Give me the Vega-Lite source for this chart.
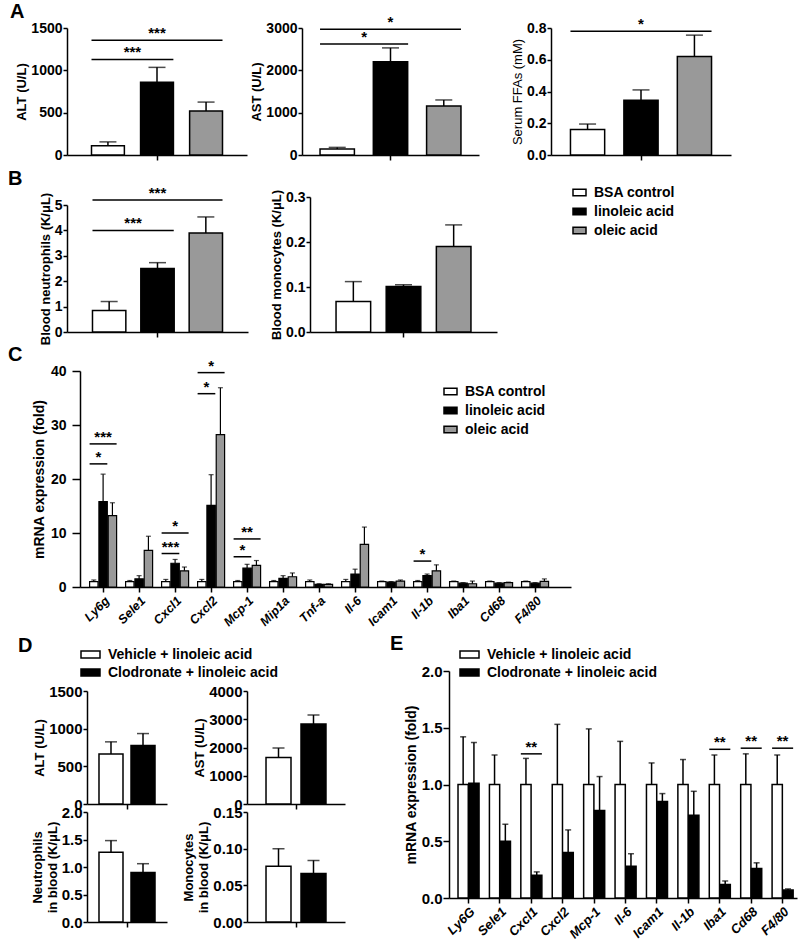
{
"$schema": "https://vega.github.io/schema/vega-lite/v6.json",
"background": "white",
"padding": {"left": 8, "top": 2, "right": 5, "bottom": 5},
"config": {
  "font": "Liberation Sans",
  "view": {"stroke": null},
  "axis": {"domainColor": "black", "domainWidth": 1.5, "tickColor": "black", "tickWidth": 1.5, "tickSize": 5, "labelColor": "black", "labelFontSize": 14, "labelFontWeight": "bold", "labelPadding": 2, "titleColor": "black", "titleFontSize": 13, "titleFontWeight": "bold", "titlePadding": 2, "grid": false},
  "axisY": {"tickSize": 4, "labelPadding": 1},
  "legend": {"labelFontSize": 14, "labelFontWeight": "bold", "labelColor": "black", "symbolStrokeColor": "black", "symbolStrokeWidth": 1.5, "labelOffset": 7, "padding": 0, "labelLimit": 400},
  "title": {"fontSize": 20, "fontWeight": "bold", "color": "black", "anchor": "start", "frame": "group", "offset": 2}
},
"datasets": {"none": []},
"spacing": 5,
"resolve": {"scale": {"fill": "independent", "xOffset": "independent"}, "legend": {"fill": "independent"}},
"vconcat": [
 {"spacing": -1,
  "resolve": {"scale": {"fill": "independent", "xOffset": "independent"}, "legend": {"fill": "independent"}},
  "vconcat": [
   {"spacing": 6,
    "resolve": {"scale": {"fill": "independent", "xOffset": "independent"}, "legend": {"fill": "independent"}},
    "vconcat": [
     {"bounds": "flush", "spacing": 0,
      "resolve": {"scale": {"fill": "independent", "xOffset": "independent"}, "legend": {"fill": "independent"}},
      "hconcat": [
       {"width": 180, "height": 127,
        "title": {"text": "A", "dx": -57, "dy": 3},
        "encoding": {
          "x": {"field": "panel", "type": "nominal", "scale": {"paddingInner": 0, "paddingOuter": 0.187}, "axis": {"labels": false, "title": null}},
          "y": {"field": "v", "type": "quantitative", "scale": {"domain": [0, 1500], "nice": false}, "axis": {"values": [0, 500, 1000, 1500], "format": "d", "title": "ALT (U/L)"}}},
        "layer": [
         {"data": {"values": [
            {"panel": "ALT", "g": "BSA control", "v": 110, "hi": 155},
            {"panel": "ALT", "g": "linoleic acid", "v": 860, "hi": 1035},
            {"panel": "ALT", "g": "oleic acid", "v": 520, "hi": 625}]},
          "encoding": {"xOffset": {"field": "g", "type": "nominal", "scale": {"domain": ["BSA control", "linoleic acid", "oleic acid"], "paddingInner": 0.33, "paddingOuter": 0}}},
          "layer": [
           {"mark": {"type": "bar", "stroke": "black", "strokeWidth": 1.5}, "encoding": {"fill": {"field": "g", "type": "nominal", "scale": {"domain": ["BSA control", "linoleic acid", "oleic acid"], "range": ["white", "black", "#999999"]}, "legend": null}}},
           {"mark": {"type": "rule", "color": "black", "strokeWidth": 1.5}, "encoding": {"y2": {"field": "hi"}}},
           {"mark": {"type": "tick", "color": "black", "thickness": 1.5, "size": 17, "orient": "horizontal"}, "encoding": {"y": {"field": "hi", "type": "quantitative"}}}]},
         {"data": {"values": [
            {"panel": "ALT", "to": "linoleic acid", "v": 1128, "label": "***"},
            {"panel": "ALT", "to": "oleic acid", "v": 1356, "label": "***"}]},
          "layer": [
           {"transform": [{"filter": "datum.to == 'linoleic acid'"}], "mark": {"type": "rule", "color": "black", "strokeWidth": 1.5}, "encoding": {"x": {"field": "panel", "type": "nominal", "bandPosition": 0}, "x2": {"field": "panel", "bandPosition": 0.625}}},
           {"transform": [{"filter": "datum.to == 'oleic acid'"}], "mark": {"type": "rule", "color": "black", "strokeWidth": 1.5}, "encoding": {"x": {"field": "panel", "type": "nominal", "bandPosition": 0}, "x2": {"field": "panel", "bandPosition": 1}}},
           {"transform": [{"filter": "datum.to == 'linoleic acid'"}], "mark": {"type": "text", "baseline": "alphabetic", "dy": -2, "fontSize": 15, "fontWeight": "bold"}, "encoding": {"x": {"field": "panel", "type": "nominal", "bandPosition": 0.3125}, "text": {"field": "label"}}},
           {"transform": [{"filter": "datum.to == 'oleic acid'"}], "mark": {"type": "text", "baseline": "alphabetic", "dy": -2, "fontSize": 15, "fontWeight": "bold"}, "encoding": {"x": {"field": "panel", "type": "nominal", "bandPosition": 0.5}, "text": {"field": "label"}}}]}
        ]},
       {"width": 55, "height": 1, "data": {"name": "none"}, "mark": "point"},
       {"width": 177, "height": 127,
        "encoding": {
          "x": {"field": "panel", "type": "nominal", "scale": {"paddingInner": 0, "paddingOuter": 0.128}, "axis": {"labels": false, "title": null}},
          "y": {"field": "v", "type": "quantitative", "scale": {"domain": [0, 3000], "nice": false}, "axis": {"values": [0, 1000, 2000, 3000], "format": "d", "title": "AST (U/L)"}}},
        "layer": [
         {"data": {"values": [
            {"panel": "AST", "g": "BSA control", "v": 140, "hi": 180},
            {"panel": "AST", "g": "linoleic acid", "v": 2200, "hi": 2530},
            {"panel": "AST", "g": "oleic acid", "v": 1160, "hi": 1300}]},
          "encoding": {"xOffset": {"field": "g", "type": "nominal", "scale": {"domain": ["BSA control", "linoleic acid", "oleic acid"], "paddingInner": 0.355, "paddingOuter": 0}}},
          "layer": [
           {"mark": {"type": "bar", "stroke": "black", "strokeWidth": 1.5}, "encoding": {"fill": {"field": "g", "type": "nominal", "scale": {"domain": ["BSA control", "linoleic acid", "oleic acid"], "range": ["white", "black", "#999999"]}, "legend": null}}},
           {"mark": {"type": "rule", "color": "black", "strokeWidth": 1.5}, "encoding": {"y2": {"field": "hi"}}},
           {"mark": {"type": "tick", "color": "black", "thickness": 1.5, "size": 17, "orient": "horizontal"}, "encoding": {"y": {"field": "hi", "type": "quantitative"}}}]},
         {"data": {"values": [
            {"panel": "AST", "to": "linoleic acid", "v": 2620, "label": "*"},
            {"panel": "AST", "to": "oleic acid", "v": 2970, "label": "*"}]},
          "layer": [
           {"transform": [{"filter": "datum.to == 'linoleic acid'"}], "mark": {"type": "rule", "color": "black", "strokeWidth": 1.5}, "encoding": {"x": {"field": "panel", "type": "nominal", "bandPosition": 0}, "x2": {"field": "panel", "bandPosition": 0.625}}},
           {"transform": [{"filter": "datum.to == 'oleic acid'"}], "mark": {"type": "rule", "color": "black", "strokeWidth": 1.5}, "encoding": {"x": {"field": "panel", "type": "nominal", "bandPosition": 0}, "x2": {"field": "panel", "bandPosition": 1}}},
           {"transform": [{"filter": "datum.to == 'linoleic acid'"}], "mark": {"type": "text", "baseline": "alphabetic", "dy": -2, "fontSize": 15, "fontWeight": "bold"}, "encoding": {"x": {"field": "panel", "type": "nominal", "bandPosition": 0.3125}, "text": {"field": "label"}}},
           {"transform": [{"filter": "datum.to == 'oleic acid'"}], "mark": {"type": "text", "baseline": "alphabetic", "dy": -2, "fontSize": 15, "fontWeight": "bold"}, "encoding": {"x": {"field": "panel", "type": "nominal", "bandPosition": 0.5}, "text": {"field": "label"}}}]}
        ]},
       {"width": 72, "height": 1, "data": {"name": "none"}, "mark": "point"},
       {"width": 180, "height": 127,
        "encoding": {
          "x": {"field": "panel", "type": "nominal", "scale": {"paddingInner": 0, "paddingOuter": 0.138}, "axis": {"labels": false, "title": null}},
          "y": {"field": "v", "type": "quantitative", "scale": {"domain": [0, 0.8], "nice": false}, "axis": {"values": [0, 0.2, 0.4, 0.6, 0.8], "format": ".1f", "title": "Serum FFAs (mM)", "titleFontWeight": "normal"}}},
        "layer": [
         {"data": {"values": [
            {"panel": "FFA", "g": "BSA control", "v": 0.16, "hi": 0.195},
            {"panel": "FFA", "g": "linoleic acid", "v": 0.345, "hi": 0.41},
            {"panel": "FFA", "g": "oleic acid", "v": 0.62, "hi": 0.755}]},
          "encoding": {"xOffset": {"field": "g", "type": "nominal", "scale": {"domain": ["BSA control", "linoleic acid", "oleic acid"], "paddingInner": 0.36, "paddingOuter": 0}}},
          "layer": [
           {"mark": {"type": "bar", "stroke": "black", "strokeWidth": 1.5}, "encoding": {"fill": {"field": "g", "type": "nominal", "scale": {"domain": ["BSA control", "linoleic acid", "oleic acid"], "range": ["white", "black", "#999999"]}, "legend": null}}},
           {"mark": {"type": "rule", "color": "black", "strokeWidth": 1.5}, "encoding": {"y2": {"field": "hi"}}},
           {"mark": {"type": "tick", "color": "black", "thickness": 1.5, "size": 17, "orient": "horizontal"}, "encoding": {"y": {"field": "hi", "type": "quantitative"}}}]},
         {"data": {"values": [{"panel": "FFA", "to": "oleic acid", "v": 0.78, "label": "*"}]},
          "layer": [
           {"mark": {"type": "rule", "color": "black", "strokeWidth": 1.5}, "encoding": {"x": {"field": "panel", "type": "nominal", "bandPosition": 0}, "x2": {"field": "panel", "bandPosition": 1}}},
           {"mark": {"type": "text", "baseline": "alphabetic", "dy": -2, "fontSize": 15, "fontWeight": "bold"}, "encoding": {"x": {"field": "panel", "type": "nominal", "bandPosition": 0.5}, "text": {"field": "label"}}}]}
        ]}
      ]},
     {"bounds": "flush", "spacing": 0,
      "resolve": {"scale": {"fill": "independent", "xOffset": "independent"}, "legend": {"fill": "independent"}},
      "hconcat": [
       {"width": 181, "height": 135,
        "title": {"text": "B", "dx": -59, "dy": 5},
        "encoding": {
          "x": {"field": "panel", "type": "nominal", "scale": {"paddingInner": 0, "paddingOuter": 0.196}, "axis": {"labels": false, "title": null}},
          "y": {"field": "v", "type": "quantitative", "scale": {"domain": [0, 5], "nice": false, "range": [135, 8]}, "axis": {"values": [0, 1, 2, 3, 4, 5], "format": "d", "title": "Blood neutrophils (K/μL)"}}},
        "layer": [
         {"data": {"values": [
            {"panel": "NEUT", "g": "BSA control", "v": 0.85, "hi": 1.2},
            {"panel": "NEUT", "g": "linoleic acid", "v": 2.5, "hi": 2.73},
            {"panel": "NEUT", "g": "oleic acid", "v": 3.9, "hi": 4.53}]},
          "encoding": {"xOffset": {"field": "g", "type": "nominal", "scale": {"domain": ["BSA control", "linoleic acid", "oleic acid"], "paddingInner": 0.31, "paddingOuter": 0}}},
          "layer": [
           {"mark": {"type": "bar", "stroke": "black", "strokeWidth": 1.5}, "encoding": {"fill": {"field": "g", "type": "nominal", "scale": {"domain": ["BSA control", "linoleic acid", "oleic acid"], "range": ["white", "black", "#999999"]}, "legend": null}}},
           {"mark": {"type": "rule", "color": "black", "strokeWidth": 1.5}, "encoding": {"y2": {"field": "hi"}}},
           {"mark": {"type": "tick", "color": "black", "thickness": 1.5, "size": 17, "orient": "horizontal"}, "encoding": {"y": {"field": "hi", "type": "quantitative"}}}]},
         {"data": {"values": [
            {"panel": "NEUT", "to": "linoleic acid", "v": 4.0, "label": "***"},
            {"panel": "NEUT", "to": "oleic acid", "v": 5.2, "label": "***"}]},
          "layer": [
           {"transform": [{"filter": "datum.to == 'linoleic acid'"}], "mark": {"type": "rule", "color": "black", "strokeWidth": 1.5}, "encoding": {"x": {"field": "panel", "type": "nominal", "bandPosition": 0}, "x2": {"field": "panel", "bandPosition": 0.625}}},
           {"transform": [{"filter": "datum.to == 'oleic acid'"}], "mark": {"type": "rule", "color": "black", "strokeWidth": 1.5}, "encoding": {"x": {"field": "panel", "type": "nominal", "bandPosition": 0}, "x2": {"field": "panel", "bandPosition": 1}}},
           {"transform": [{"filter": "datum.to == 'linoleic acid'"}], "mark": {"type": "text", "baseline": "alphabetic", "dy": -2, "fontSize": 15, "fontWeight": "bold"}, "encoding": {"x": {"field": "panel", "type": "nominal", "bandPosition": 0.3125}, "text": {"field": "label"}}},
           {"transform": [{"filter": "datum.to == 'oleic acid'"}], "mark": {"type": "text", "baseline": "alphabetic", "dy": -2, "fontSize": 15, "fontWeight": "bold"}, "encoding": {"x": {"field": "panel", "type": "nominal", "bandPosition": 0.5}, "text": {"field": "label"}}}]}
        ]},
       {"width": 62, "height": 1, "data": {"name": "none"}, "mark": "point"},
       {"width": 187, "height": 135,
        "data": {"values": [
            {"panel": "MONO", "g": "BSA control", "v": 0.068, "hi": 0.112},
            {"panel": "MONO", "g": "linoleic acid", "v": 0.101, "hi": 0.105},
            {"panel": "MONO", "g": "oleic acid", "v": 0.19, "hi": 0.238}]},
        "encoding": {
          "x": {"field": "panel", "type": "nominal", "scale": {"paddingInner": 0, "paddingOuter": 0.193}, "axis": {"labels": false, "title": null}},
          "xOffset": {"field": "g", "type": "nominal", "scale": {"domain": ["BSA control", "linoleic acid", "oleic acid"], "paddingInner": 0.31, "paddingOuter": 0}},
          "y": {"field": "v", "type": "quantitative", "scale": {"domain": [0, 0.3], "nice": false}, "axis": {"values": [0, 0.1, 0.2, 0.3], "format": ".1f", "title": "Blood monocytes (K/μL)"}}},
        "layer": [
         {"mark": {"type": "bar", "stroke": "black", "strokeWidth": 1.5}, "encoding": {"fill": {"field": "g", "type": "nominal", "scale": {"domain": ["BSA control", "linoleic acid", "oleic acid"], "range": ["white", "black", "#999999"]}, "legend": {"orient": "none", "legendX": 262, "legendY": -12, "title": null, "symbolType": "M-1,-0.5H1V0.5H-1Z", "symbolSize": 169, "rowPadding": 4}}}},
         {"mark": {"type": "rule", "color": "black", "strokeWidth": 1.5}, "encoding": {"y2": {"field": "hi"}}},
         {"mark": {"type": "tick", "color": "black", "thickness": 1.5, "size": 17, "orient": "horizontal"}, "encoding": {"y": {"field": "hi", "type": "quantitative"}}}]}
      ]}
    ]},
   {"bounds": "flush", "spacing": 0,
    "resolve": {"scale": {"fill": "independent", "xOffset": "independent"}, "legend": {"fill": "independent"}},
    "hconcat": [
     {"width": 13, "height": 1, "data": {"name": "none"}, "mark": "point"},
     {"width": 491, "height": 216,
      "title": {"text": "C", "dx": -72, "dy": 8},
      "encoding": {
        "x": {"field": "gene", "type": "nominal", "scale": {"domain": ["Ly6g", "Sele1", "Cxcl1", "Cxcl2", "Mcp-1", "Mip1a", "Tnf-a", "Il-6", "Icam1", "Il-1b", "Iba1", "Cd68", "F4/80"], "paddingInner": 0.25, "paddingOuter": 0.445, "align": 0.3}, "axis": {"title": null, "labelAngle": -45, "labelFontStyle": "italic", "labelFontSize": 12.5}},
        "y": {"field": "v", "type": "quantitative", "scale": {"domain": [0, 40], "nice": false}, "axis": {"values": [0, 10, 20, 30, 40], "format": "d", "title": "mRNA expression (fold)", "titleFontSize": 14, "tickSize": 8, "labelPadding": 6, "titlePadding": 4}}},
      "layer": [
       {"data": {"values": [
          {"gene": "Ly6g", "g": "BSA control", "v": 1, "hi": 1.3},
          {"gene": "Ly6g", "g": "linoleic acid", "v": 15.8, "hi": 20.9},
          {"gene": "Ly6g", "g": "oleic acid", "v": 13.2, "hi": 15.6},
          {"gene": "Sele1", "g": "BSA control", "v": 1, "hi": 1.2},
          {"gene": "Sele1", "g": "linoleic acid", "v": 1.5, "hi": 2.1},
          {"gene": "Sele1", "g": "oleic acid", "v": 6.8, "hi": 9.4},
          {"gene": "Cxcl1", "g": "BSA control", "v": 1, "hi": 1.4},
          {"gene": "Cxcl1", "g": "linoleic acid", "v": 4.4, "hi": 5.1},
          {"gene": "Cxcl1", "g": "oleic acid", "v": 3.0, "hi": 3.7},
          {"gene": "Cxcl2", "g": "BSA control", "v": 1, "hi": 1.4},
          {"gene": "Cxcl2", "g": "linoleic acid", "v": 15.1, "hi": 20.8},
          {"gene": "Cxcl2", "g": "oleic acid", "v": 28.2, "hi": 36.9},
          {"gene": "Mcp-1", "g": "BSA control", "v": 1, "hi": 1.2},
          {"gene": "Mcp-1", "g": "linoleic acid", "v": 3.5, "hi": 4.2},
          {"gene": "Mcp-1", "g": "oleic acid", "v": 4.0, "hi": 4.9},
          {"gene": "Mip1a", "g": "BSA control", "v": 1, "hi": 1.2},
          {"gene": "Mip1a", "g": "linoleic acid", "v": 1.6, "hi": 2.1},
          {"gene": "Mip1a", "g": "oleic acid", "v": 1.9, "hi": 2.6},
          {"gene": "Tnf-a", "g": "BSA control", "v": 1, "hi": 1.3},
          {"gene": "Tnf-a", "g": "linoleic acid", "v": 0.5, "hi": 0.6},
          {"gene": "Tnf-a", "g": "oleic acid", "v": 0.5, "hi": 0.6},
          {"gene": "Il-6", "g": "BSA control", "v": 1, "hi": 1.4},
          {"gene": "Il-6", "g": "linoleic acid", "v": 2.4, "hi": 3.3},
          {"gene": "Il-6", "g": "oleic acid", "v": 7.9, "hi": 11.1},
          {"gene": "Icam1", "g": "BSA control", "v": 1, "hi": 1.1},
          {"gene": "Icam1", "g": "linoleic acid", "v": 0.9, "hi": 1.0},
          {"gene": "Icam1", "g": "oleic acid", "v": 1.1, "hi": 1.3},
          {"gene": "Il-1b", "g": "BSA control", "v": 1, "hi": 1.2},
          {"gene": "Il-1b", "g": "linoleic acid", "v": 2.1, "hi": 2.4},
          {"gene": "Il-1b", "g": "oleic acid", "v": 3.0, "hi": 4.1},
          {"gene": "Iba1", "g": "BSA control", "v": 1, "hi": 1.1},
          {"gene": "Iba1", "g": "linoleic acid", "v": 0.7, "hi": 0.8},
          {"gene": "Iba1", "g": "oleic acid", "v": 0.6, "hi": 1.1},
          {"gene": "Cd68", "g": "BSA control", "v": 1, "hi": 1.1},
          {"gene": "Cd68", "g": "linoleic acid", "v": 0.7, "hi": 0.8},
          {"gene": "Cd68", "g": "oleic acid", "v": 0.8, "hi": 0.9},
          {"gene": "F4/80", "g": "BSA control", "v": 1, "hi": 1.1},
          {"gene": "F4/80", "g": "linoleic acid", "v": 0.7, "hi": 0.8},
          {"gene": "F4/80", "g": "oleic acid", "v": 1.05, "hi": 1.5}]},
        "encoding": {"xOffset": {"field": "g", "type": "nominal", "scale": {"domain": ["BSA control", "linoleic acid", "oleic acid"], "paddingInner": 0.1, "paddingOuter": 0}}},
        "layer": [
         {"mark": {"type": "bar", "stroke": "black", "strokeWidth": 1.2}, "encoding": {"fill": {"field": "g", "type": "nominal", "scale": {"domain": ["BSA control", "linoleic acid", "oleic acid"], "range": ["white", "black", "#999999"]}, "legend": {"orient": "none", "legendX": 363, "legendY": 13, "title": null, "symbolType": "M-1,-0.5H1V0.5H-1Z", "symbolSize": 169, "rowPadding": 4}}}},
         {"mark": {"type": "rule", "color": "black", "strokeWidth": 1.2}, "encoding": {"y2": {"field": "hi"}}},
         {"mark": {"type": "tick", "color": "black", "thickness": 1.2, "size": 5, "orient": "horizontal"}, "encoding": {"y": {"field": "hi", "type": "quantitative"}}}]},
       {"data": {"values": [
          {"gene": "Ly6g", "to": "linoleic acid", "v": 22.8, "label": "*"},
          {"gene": "Ly6g", "to": "oleic acid", "v": 26.5, "label": "***"},
          {"gene": "Cxcl1", "to": "linoleic acid", "v": 6.2, "label": "***"},
          {"gene": "Cxcl1", "to": "oleic acid", "v": 10.0, "label": "*"},
          {"gene": "Cxcl2", "to": "linoleic acid", "v": 35.8, "label": "*"},
          {"gene": "Cxcl2", "to": "oleic acid", "v": 39.7, "label": "*"},
          {"gene": "Mcp-1", "to": "linoleic acid", "v": 5.6, "label": "*"},
          {"gene": "Mcp-1", "to": "oleic acid", "v": 8.9, "label": "**"},
          {"gene": "Il-1b", "to": "linoleic acid", "v": 4.8, "label": "*"}]},
        "layer": [
         {"transform": [{"filter": "datum.to == 'linoleic acid'"}], "mark": {"type": "rule", "color": "black", "strokeWidth": 1.5}, "encoding": {"x": {"field": "gene", "type": "nominal", "bandPosition": 0}, "x2": {"field": "gene", "bandPosition": 0.656}}},
         {"transform": [{"filter": "datum.to == 'oleic acid'"}], "mark": {"type": "rule", "color": "black", "strokeWidth": 1.5}, "encoding": {"x": {"field": "gene", "type": "nominal", "bandPosition": 0}, "x2": {"field": "gene", "bandPosition": 1}}},
         {"transform": [{"filter": "datum.to == 'linoleic acid'"}], "mark": {"type": "text", "baseline": "alphabetic", "dy": -2, "fontSize": 15, "fontWeight": "bold"}, "encoding": {"x": {"field": "gene", "type": "nominal", "bandPosition": 0.328}, "text": {"field": "label"}}},
         {"transform": [{"filter": "datum.to == 'oleic acid'"}], "mark": {"type": "text", "baseline": "alphabetic", "dy": -2, "fontSize": 15, "fontWeight": "bold"}, "encoding": {"x": {"field": "gene", "type": "nominal", "bandPosition": 0.5}, "text": {"field": "label"}}}]}
      ]}
    ]}
  ]},
 {"spacing": 45,
  "resolve": {"scale": {"fill": "independent", "xOffset": "independent"}, "legend": {"fill": "independent"}},
  "hconcat": [
   {"bounds": "flush", "columns": 4, "spacing": 0,
    "resolve": {"scale": {"fill": "independent", "xOffset": "independent"}, "legend": {"fill": "independent"}},
    "concat": [
     {"width": 10, "height": 20, "data": {"name": "none"}, "mark": "point"},
     {"width": 0, "height": 20, "data": {"name": "none"}, "mark": "point"},
     {"width": 80, "height": 20, "data": {"name": "none"}, "mark": "point"},
     {"width": 0, "height": 20, "data": {"name": "none"}, "mark": "point"},

     {"width": 10, "height": 0, "data": {"name": "none"}, "mark": "point"},
     {"width": 80, "height": 113,
      "title": {"text": "D", "dx": -69, "dy": 14},
      "data": {"values": [
        {"panel": "ALT-D", "g": "Vehicle + linoleic acid", "v": 665, "hi": 825},
        {"panel": "ALT-D", "g": "Clodronate + linoleic acid", "v": 775, "hi": 935}]},
      "encoding": {
        "x": {"field": "panel", "type": "nominal", "scale": {"paddingInner": 0, "paddingOuter": 0.214}, "axis": {"labels": false, "title": null}},
        "xOffset": {"field": "g", "type": "nominal", "scale": {"domain": ["Vehicle + linoleic acid", "Clodronate + linoleic acid"], "paddingInner": 0.25, "paddingOuter": 0}},
        "y": {"field": "v", "type": "quantitative", "scale": {"domain": [0, 1500], "nice": false}, "axis": {"values": [0, 500, 1000, 1500], "format": "d", "title": "ALT (U/L)", "labelFontSize": 15}}},
      "layer": [
       {"mark": {"type": "bar", "stroke": "black", "strokeWidth": 1.5}, "encoding": {"fill": {"field": "g", "type": "nominal", "scale": {"domain": ["Vehicle + linoleic acid", "Clodronate + linoleic acid"], "range": ["white", "black"]}, "legend": {"orient": "none", "legendX": -7, "legendY": -47, "title": null, "symbolType": "M-1,-0.37H1V0.37H-1Z", "symbolSize": 361, "rowPadding": 0}}}},
       {"mark": {"type": "rule", "color": "black", "strokeWidth": 1.5}, "encoding": {"y2": {"field": "hi"}}},
       {"mark": {"type": "tick", "color": "black", "thickness": 1.5, "size": 12, "orient": "horizontal"}, "encoding": {"y": {"field": "hi", "type": "quantitative"}}}]},
     {"width": 80, "height": 0, "data": {"name": "none"}, "mark": "point"},
     {"width": 98, "height": 113,
      "data": {"values": [
        {"panel": "AST-D", "g": "Vehicle + linoleic acid", "v": 1650, "hi": 1980},
        {"panel": "AST-D", "g": "Clodronate + linoleic acid", "v": 2830, "hi": 3150}]},
      "encoding": {
        "x": {"field": "panel", "type": "nominal", "scale": {"paddingInner": 0, "paddingOuter": 0.317}, "axis": {"labels": false, "title": null}},
        "xOffset": {"field": "g", "type": "nominal", "scale": {"domain": ["Vehicle + linoleic acid", "Clodronate + linoleic acid"], "paddingInner": 0.286, "paddingOuter": 0}},
        "y": {"field": "v", "type": "quantitative", "scale": {"domain": [0, 4000], "nice": false}, "axis": {"values": [0, 1000, 2000, 3000, 4000], "format": "d", "title": "AST (U/L)", "labelFontSize": 15}}},
      "layer": [
       {"mark": {"type": "bar", "stroke": "black", "strokeWidth": 1.5}, "encoding": {"fill": {"field": "g", "type": "nominal", "scale": {"domain": ["Vehicle + linoleic acid", "Clodronate + linoleic acid"], "range": ["white", "black"]}, "legend": null}}},
       {"mark": {"type": "rule", "color": "black", "strokeWidth": 1.5}, "encoding": {"y2": {"field": "hi"}}},
       {"mark": {"type": "tick", "color": "black", "thickness": 1.5, "size": 12, "orient": "horizontal"}, "encoding": {"y": {"field": "hi", "type": "quantitative"}}}]},

     {"width": 0, "height": 8, "data": {"name": "none"}, "mark": "point"},
     {"width": 0, "height": 8, "data": {"name": "none"}, "mark": "point"},
     {"width": 0, "height": 8, "data": {"name": "none"}, "mark": "point"},
     {"width": 0, "height": 8, "data": {"name": "none"}, "mark": "point"},

     {"width": 10, "height": 0, "data": {"name": "none"}, "mark": "point"},
     {"width": 80, "height": 110,
      "data": {"values": [
        {"panel": "NEUT-D", "g": "Vehicle + linoleic acid", "v": 1.27, "hi": 1.48},
        {"panel": "NEUT-D", "g": "Clodronate + linoleic acid", "v": 0.9, "hi": 1.06}]},
      "encoding": {
        "x": {"field": "panel", "type": "nominal", "scale": {"paddingInner": 0, "paddingOuter": 0.214}, "axis": {"labels": false, "title": null}},
        "xOffset": {"field": "g", "type": "nominal", "scale": {"domain": ["Vehicle + linoleic acid", "Clodronate + linoleic acid"], "paddingInner": 0.25, "paddingOuter": 0}},
        "y": {"field": "v", "type": "quantitative", "scale": {"domain": [0, 2], "nice": false}, "axis": {"values": [0, 0.5, 1, 1.5, 2], "format": ".1f", "title": ["Neutrophils", "in blood (K/μL)"], "labelFontSize": 15}}},
      "layer": [
       {"mark": {"type": "bar", "stroke": "black", "strokeWidth": 1.5}, "encoding": {"fill": {"field": "g", "type": "nominal", "scale": {"domain": ["Vehicle + linoleic acid", "Clodronate + linoleic acid"], "range": ["white", "black"]}, "legend": null}}},
       {"mark": {"type": "rule", "color": "black", "strokeWidth": 1.5}, "encoding": {"y2": {"field": "hi"}}},
       {"mark": {"type": "tick", "color": "black", "thickness": 1.5, "size": 12, "orient": "horizontal"}, "encoding": {"y": {"field": "hi", "type": "quantitative"}}}]},
     {"width": 80, "height": 0, "data": {"name": "none"}, "mark": "point"},
     {"width": 98, "height": 110,
      "data": {"values": [
        {"panel": "MONO-D", "g": "Vehicle + linoleic acid", "v": 0.076, "hi": 0.1},
        {"panel": "MONO-D", "g": "Clodronate + linoleic acid", "v": 0.066, "hi": 0.084}]},
      "encoding": {
        "x": {"field": "panel", "type": "nominal", "scale": {"paddingInner": 0, "paddingOuter": 0.317}, "axis": {"labels": false, "title": null}},
        "xOffset": {"field": "g", "type": "nominal", "scale": {"domain": ["Vehicle + linoleic acid", "Clodronate + linoleic acid"], "paddingInner": 0.286, "paddingOuter": 0}},
        "y": {"field": "v", "type": "quantitative", "scale": {"domain": [0, 0.15], "nice": false}, "axis": {"values": [0, 0.05, 0.1, 0.15], "format": ".2f", "title": ["Monocytes", "in blood (K/μL)"], "labelFontSize": 15}}},
      "layer": [
       {"mark": {"type": "bar", "stroke": "black", "strokeWidth": 1.5}, "encoding": {"fill": {"field": "g", "type": "nominal", "scale": {"domain": ["Vehicle + linoleic acid", "Clodronate + linoleic acid"], "range": ["white", "black"]}, "legend": null}}},
       {"mark": {"type": "rule", "color": "black", "strokeWidth": 1.5}, "encoding": {"y2": {"field": "hi"}}},
       {"mark": {"type": "tick", "color": "black", "thickness": 1.5, "size": 12, "orient": "horizontal"}, "encoding": {"y": {"field": "hi", "type": "quantitative"}}}]}
    ]},
   {"width": 348, "height": 227,
    "title": {"text": "E", "dx": -59, "dy": 12},
    "encoding": {
      "x": {"field": "gene", "type": "nominal", "scale": {"domain": ["Ly6G", "Sele1", "Cxcl1", "Cxcl2", "Mcp-1", "Il-6", "Icam1", "Il-1b", "Iba1", "Cd68", "F4/80"], "paddingInner": 0.33, "paddingOuter": 0.205, "align": 0.7}, "axis": {"title": null, "labelAngle": -45, "labelFontStyle": "italic", "labelFontSize": 13}},
      "y": {"field": "v", "type": "quantitative", "scale": {"domain": [0, 2], "nice": false}, "axis": {"values": [0, 0.5, 1, 1.5, 2], "format": ".1f", "title": "mRNA expression (fold)", "titleFontSize": 14, "tickSize": 6, "titlePadding": 3, "labelFontSize": 15}}},
    "layer": [
     {"data": {"values": [
        {"gene": "Ly6G", "g": "Vehicle + linoleic acid", "v": 1, "hi": 1.42},
        {"gene": "Ly6G", "g": "Clodronate + linoleic acid", "v": 1.01, "hi": 1.37},
        {"gene": "Sele1", "g": "Vehicle + linoleic acid", "v": 1, "hi": 1.26},
        {"gene": "Sele1", "g": "Clodronate + linoleic acid", "v": 0.5, "hi": 0.65},
        {"gene": "Cxcl1", "g": "Vehicle + linoleic acid", "v": 1, "hi": 1.23},
        {"gene": "Cxcl1", "g": "Clodronate + linoleic acid", "v": 0.2, "hi": 0.23},
        {"gene": "Cxcl2", "g": "Vehicle + linoleic acid", "v": 1, "hi": 1.53},
        {"gene": "Cxcl2", "g": "Clodronate + linoleic acid", "v": 0.4, "hi": 0.6},
        {"gene": "Mcp-1", "g": "Vehicle + linoleic acid", "v": 1, "hi": 1.49},
        {"gene": "Mcp-1", "g": "Clodronate + linoleic acid", "v": 0.77, "hi": 1.07},
        {"gene": "Il-6", "g": "Vehicle + linoleic acid", "v": 1, "hi": 1.38},
        {"gene": "Il-6", "g": "Clodronate + linoleic acid", "v": 0.28, "hi": 0.39},
        {"gene": "Icam1", "g": "Vehicle + linoleic acid", "v": 1, "hi": 1.19},
        {"gene": "Icam1", "g": "Clodronate + linoleic acid", "v": 0.85, "hi": 0.92},
        {"gene": "Il-1b", "g": "Vehicle + linoleic acid", "v": 1, "hi": 1.22},
        {"gene": "Il-1b", "g": "Clodronate + linoleic acid", "v": 0.73, "hi": 0.94},
        {"gene": "Iba1", "g": "Vehicle + linoleic acid", "v": 1, "hi": 1.26},
        {"gene": "Iba1", "g": "Clodronate + linoleic acid", "v": 0.12, "hi": 0.15},
        {"gene": "Cd68", "g": "Vehicle + linoleic acid", "v": 1, "hi": 1.27},
        {"gene": "Cd68", "g": "Clodronate + linoleic acid", "v": 0.26, "hi": 0.31},
        {"gene": "F4/80", "g": "Vehicle + linoleic acid", "v": 1, "hi": 1.26},
        {"gene": "F4/80", "g": "Clodronate + linoleic acid", "v": 0.07, "hi": 0.08}]},
      "encoding": {"xOffset": {"field": "g", "type": "nominal", "scale": {"domain": ["Vehicle + linoleic acid", "Clodronate + linoleic acid"], "paddingInner": 0.05, "paddingOuter": 0}}},
      "layer": [
       {"mark": {"type": "bar", "stroke": "black", "strokeWidth": 1.5}, "encoding": {"fill": {"field": "g", "type": "nominal", "scale": {"domain": ["Vehicle + linoleic acid", "Clodronate + linoleic acid"], "range": ["white", "black"]}, "legend": {"orient": "none", "legendX": 10, "legendY": -27, "title": null, "symbolType": "M-1,-0.37H1V0.37H-1Z", "symbolSize": 361, "rowPadding": 0}}}},
       {"mark": {"type": "rule", "color": "black", "strokeWidth": 1.5}, "encoding": {"y2": {"field": "hi"}}},
       {"mark": {"type": "tick", "color": "black", "thickness": 1.5, "size": 6, "orient": "horizontal"}, "encoding": {"y": {"field": "hi", "type": "quantitative"}}}]},
     {"data": {"values": [
        {"gene": "Cxcl1", "v": 1.27, "label": "**"},
        {"gene": "Iba1", "v": 1.31, "label": "**"},
        {"gene": "Cd68", "v": 1.32, "label": "**"},
        {"gene": "F4/80", "v": 1.32, "label": "**"}]},
      "layer": [
       {"mark": {"type": "rule", "color": "black", "strokeWidth": 1.5}, "encoding": {"x": {"field": "gene", "type": "nominal", "bandPosition": 0}, "x2": {"field": "gene", "bandPosition": 1}}},
       {"mark": {"type": "text", "baseline": "alphabetic", "dy": -2, "fontSize": 15, "fontWeight": "bold"}, "encoding": {"x": {"field": "gene", "type": "nominal", "bandPosition": 0.5}, "text": {"field": "label"}}}]}
    ]}
  ]}
]
}
